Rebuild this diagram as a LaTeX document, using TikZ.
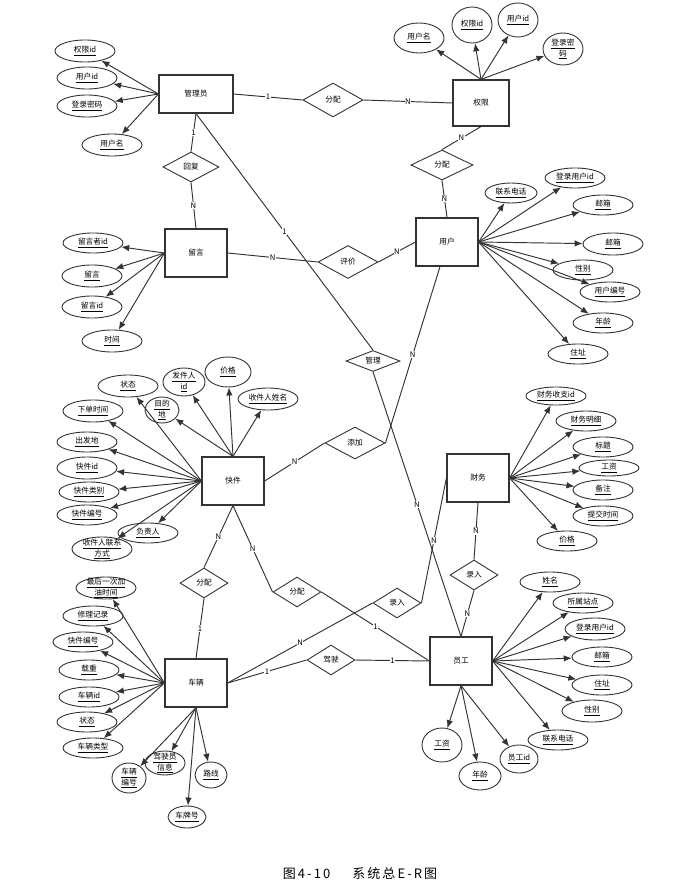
\documentclass[tikz,border=0pt]{standalone}
\usepackage{fontspec}
\setmainfont{Noto Sans CJK SC}
\newfontfamily\capfont[LetterSpace=16]{Noto Sans CJK SC}
\usepackage{tikz}
\usepackage{xcolor}
\usetikzlibrary{arrows.meta,shapes.geometric}
\definecolor{lncol}{HTML}{333333}
\newcommand{\attrtwo}[2]{\makebox[0pt]{\smash{\raisebox{-2pt}{\begin{tabular}{@{}c@{}}\underline{#1}\\\underline{#2}\end{tabular}}}}}

\begin{document}
\begin{tikzpicture}[
    x=1pt, y=-1pt,
    font=\fontsize{7.7}{10.5}\selectfont,
    entity/.style={draw=lncol, line width=1.2pt, fill=white, minimum width=62pt, minimum height=48pt},
    rel/.style={draw=lncol, line width=0.9pt, fill=white, diamond, aspect=2, inner sep=0pt, minimum width=48pt, minimum height=30pt},
    attr/.style={draw=lncol, line width=0.9pt, fill=white, ellipse, inner sep=0pt, minimum width=60pt, minimum height=20pt},
    link/.style={draw=lncol, line width=0.95pt},
    arr/.style={link, -{Latex[length=8pt, width=6.5pt]}},
    card/.style={fill=white, inner sep=0.6pt}
]
\useasboundingbox (0,0) rectangle (700,888);

% entities
\node[entity, minimum width=74pt, minimum height=38pt] (admin) at (196,94) {管理员};
\node[entity, minimum width=56pt, minimum height=46pt] (perm) at (481,103) {权限};
\node[entity] (msg) at (196,253) {留言};
\node[entity] (user) at (447,242) {用户};
\node[entity] (parcel) at (233,481) {快件};
\node[entity] (finance) at (478,478) {财务};
\node[entity] (vehicle) at (196,683) {车辆};
\node[entity] (staff) at (461,661) {员工};

% relations
\node[rel, minimum width=60pt, minimum height=34pt] (assigna) at (333,100) {分配};
\node[rel, minimum width=56pt] (reply) at (191,167) {回复};
\node[rel, minimum width=62pt] (assignb) at (442,165) {分配};
\node[rel, minimum width=60pt, minimum height=33pt] (rate) at (348,262) {评价};
\node[rel, minimum width=54pt, minimum height=21pt] (manage) at (373,361) {管理};
\node[rel, minimum width=60pt, minimum height=32pt] (add) at (355,443) {添加};
\node[rel] (assignc) at (204,583) {分配};
\node[rel] (assignd) at (297,592) {分配};
\node[rel] (recorda) at (397,603) {录入};
\node[rel] (recordb) at (474,575) {录入};
\node[rel] (drive) at (331,660) {驾驶};

% attributes of 管理员
\node[attr, minimum height=22pt] (adminpid) at (85,51) {\underline{权限id}};
\node[attr, minimum height=22pt] (adminuid) at (87,78) {\underline{用户id}};
\node[attr, minimum height=22pt] (adminpwd) at (87,106) {\underline{登录密码}};
\node[attr, minimum height=22pt] (adminname) at (112,145) {\underline{用户名}};

% attributes of 权限
\node[attr, minimum width=50pt, minimum height=30pt] (permname) at (419,38) {\underline{用户名}};
\node[attr, minimum width=40pt, minimum height=36pt] (permpid) at (472,25) {\underline{权限id}};
\node[attr, minimum width=40pt, minimum height=34pt] (permuid) at (518,20) {\underline{用户id}};
\node[attr, minimum width=40pt, minimum height=32pt] (permpwd) at (563,49) {\attrtwo{登录密}{码}};

% attributes of 留言
\node[attr] (msgwho) at (93,243) {\underline{留言者id}};
\node[attr, minimum height=22pt] (msgtext) at (92,276) {\underline{留言}};
\node[attr, minimum height=22pt] (msgid) at (92,307) {\underline{留言id}};
\node[attr, minimum height=22pt] (msgtime) at (112,341) {\underline{时间}};

% attributes of 用户
\node[attr, minimum width=52pt] (userphone) at (511,193) {\underline{联系电话}};
\node[attr] (userlogin) at (575,178) {\underline{登录用户id}};
\node[attr] (usermaila) at (603,205) {\underline{邮箱}};
\node[attr, minimum height=22pt] (usermailb) at (613,244) {\underline{邮箱}};
\node[attr] (usersex) at (583,270) {\underline{性别}};
\node[attr] (userno) at (610,292) {\underline{用户编号}};
\node[attr] (userage) at (603,323) {\underline{年龄}};
\node[attr] (useraddr) at (578,354) {\underline{住址}};

% attributes of 快件
\node[attr, minimum height=22pt] (parcelstate) at (128,386) {\underline{状态}};
\node[attr, minimum width=42pt, minimum height=28pt] (parcelsender) at (184,382) {\attrtwo{发件人}{id}};
\node[attr, minimum width=46pt, minimum height=30pt] (parcelprice) at (228,372) {\underline{价格}};
\node[attr, minimum height=22pt] (parcelrecv) at (268,399) {\underline{收件人姓名}};
\node[attr, minimum width=34pt, minimum height=26pt] (parceldest) at (162,410) {\attrtwo{目的}{地}};
\node[attr, minimum height=22pt] (parcelorder) at (93,411) {\underline{下单时间}};
\node[attr] (parcelfrom) at (87,442) {\underline{出发地}};
\node[attr, minimum height=22pt] (parcelid) at (87,468) {\underline{快件id}};
\node[attr] (parceltype) at (89,492) {\underline{快件类别}};
\node[attr] (parcelno) at (87,515) {\underline{快件编号}};
\node[attr] (parcelowner) at (148,533) {\underline{负责人}};
\node[attr, minimum height=24pt] (parcelcontact) at (102,549) {\attrtwo{收件人联系}{方式}};

% attributes of 财务
\node[attr, minimum height=18pt] (finid) at (556,396) {\underline{财务收支id}};
\node[attr] (findetail) at (586,421) {\underline{财务明细}};
\node[attr] (fintitle) at (603,447) {\underline{标题}};
\node[attr, minimum height=16pt] (finwage) at (609,468) {\underline{工资}};
\node[attr] (finnote) at (603,490) {\underline{备注}};
\node[attr] (fintime) at (603,516) {\underline{提交时间}};
\node[attr] (finprice) at (567,541) {\underline{价格}};

% attributes of 车辆
\node[attr, minimum height=22pt] (vehfuel) at (106,588) {\attrtwo{最后一次加}{油时间}};
\node[attr] (vehrepair) at (93,616) {\underline{修理记录}};
\node[attr] (vehparcel) at (83,642) {\underline{快件编号}};
\node[attr] (vehload) at (89,670) {\underline{载重}};
\node[attr] (vehid) at (89,697) {\underline{车辆id}};
\node[attr] (vehstate) at (87,722) {\underline{状态}};
\node[attr] (vehtype) at (93,748) {\underline{车辆类型}};
\node[attr, minimum width=34pt, minimum height=30pt] (vehno) at (129,778) {\attrtwo{车辆}{编号}};
\node[attr, minimum width=40pt, minimum height=24pt] (vehdriver) at (165,763) {\attrtwo{驾驶员}{信息}};
\node[attr, minimum width=32pt, minimum height=26pt] (vehroute) at (211,775) {\underline{路线}};
\node[attr, minimum width=38pt, minimum height=22pt] (vehplate) at (187,817) {\underline{车牌号}};

% attributes of 员工
\node[attr] (staffname) at (550,582) {\underline{姓名}};
\node[attr] (staffsite) at (583,603) {\underline{所属站点}};
\node[attr, minimum height=22pt] (stafflogin) at (595,629) {\underline{登录用户id}};
\node[attr] (staffmail) at (602,657) {\underline{邮箱}};
\node[attr] (staffaddr) at (602,685) {\underline{住址}};
\node[attr, minimum height=22pt] (staffsex) at (592,711) {\underline{性别}};
\node[attr] (staffphone) at (558,740) {\underline{联系电话}};
\node[attr, minimum width=40pt, minimum height=34pt] (staffwage) at (442,745) {\underline{工资}};
\node[attr, minimum width=42pt, minimum height=28pt] (staffage) at (480,776) {\underline{年龄}};
\node[attr, minimum width=38pt, minimum height=28pt] (staffid) at (519,759) {\underline{员工id}};

% caption
\node[font=\capfont\fontsize{13}{15}\selectfont] (caption) at (360,874) {图4-10\hspace{22pt}系统总E-R图};

% relationships
\draw[link] (admin.east) -- node[card] {1} (assigna.west);
\draw[link] (assigna.east) -- node[card] {N} (perm.west);
\draw[link] (admin.south) -- node[card] {1} (reply.north);
\draw[link] (reply.south) -- node[card] {N} (msg.north);
\draw[link] (admin.south) -- node[card] {1} (manage.north);
\draw[link] (manage.south) -- node[card] {N} (staff.north);
\draw[link] (perm.south) -- node[card] {N} (assignb.north);
\draw[link] (assignb.south) -- node[card] {N} (user.north);
\draw[link] (msg.east) -- node[card] {N} (rate.west);
\draw[link] (rate.east) -- node[card] {N} (user.west);
\draw[link] ([xshift=-7pt]user.south) -- node[card] {N} (add.east);
\draw[link] (parcel.east) -- node[card] {N} (add.west);
\draw[link] (parcel.south) -- node[card] {N} (assignc.north);
\draw[link] (assignc.south) -- node[card] {1} (vehicle.north);
\draw[link] (parcel.south) -- node[card] {N} (assignd.west);
\draw[link] (assignd.east) -- node[card] {1} (staff.west);
\draw[link] (vehicle.east) -- node[card] {N} (recorda.west);
\draw[link] (recorda.east) -- node[card] {N} (finance.west);
\draw[link] (vehicle.east) -- node[card] {1} (drive.west);
\draw[link] (drive.east) -- node[card] {1} (staff.west);
\draw[link] (finance.south) -- node[card] {N} (recordb.north);
\draw[link] (recordb.south) -- node[card] {N} (staff.north);

% attribute arrows
\draw[arr] (admin.west) -- (adminpid);
\draw[arr] (admin.west) -- (adminuid);
\draw[arr] (admin.west) -- (adminpwd);
\draw[arr] (admin.west) -- (adminname);

\draw[arr] (perm.north) -- (permname);
\draw[arr] (perm.north) -- (permpid);
\draw[arr] (perm.north) -- (permuid);
\draw[arr] (perm.north) -- (permpwd);

\draw[arr] (msg.west) -- (msgwho);
\draw[arr] (msg.west) -- (msgtext);
\draw[arr] (msg.west) -- (msgid);
\draw[arr] (msg.west) -- (msgtime);

\draw[arr] (user.east) -- (userphone);
\draw[arr] (user.east) -- (userlogin);
\draw[arr] (user.east) -- (usermaila);
\draw[arr] (user.east) -- (usermailb);
\draw[arr] (user.east) -- (usersex);
\draw[arr] (user.east) -- (userno);
\draw[arr] (user.east) -- (userage);
\draw[arr] (user.east) -- (useraddr);

\draw[arr] (parcel.west) -- (parcelstate);
\draw[arr] (parcel.north) -- (parcelsender);
\draw[arr] (parcel.north) -- (parcelprice);
\draw[arr] (parcel.north) -- (parcelrecv);
\draw[arr] (parcel.north) -- (parceldest);
\draw[arr] (parcel.west) -- (parcelorder);
\draw[arr] (parcel.west) -- (parcelfrom);
\draw[arr] (parcel.west) -- (parcelid);
\draw[arr] (parcel.west) -- (parceltype);
\draw[arr] (parcel.west) -- (parcelno);
\draw[arr] (parcel.west) -- (parcelowner);
\draw[arr] (parcel.west) -- (parcelcontact);

\draw[arr] (finance.east) -- (finid);
\draw[arr] (finance.east) -- (findetail);
\draw[arr] (finance.east) -- (fintitle);
\draw[arr] (finance.east) -- (finwage);
\draw[arr] (finance.east) -- (finnote);
\draw[arr] (finance.east) -- (fintime);
\draw[arr] (finance.east) -- (finprice);

\draw[arr] (vehicle.west) -- (vehfuel);
\draw[arr] (vehicle.west) -- (vehrepair);
\draw[arr] (vehicle.west) -- (vehparcel);
\draw[arr] (vehicle.west) -- (vehload);
\draw[arr] (vehicle.west) -- (vehid);
\draw[arr] (vehicle.west) -- (vehstate);
\draw[arr] (vehicle.west) -- (vehtype);
\draw[arr] (vehicle.south) -- (vehno);
\draw[arr] (vehicle.south) -- (vehdriver);
\draw[arr] (vehicle.south) -- (vehroute);
\draw[arr] (vehicle.south) -- (vehplate);

\draw[arr] (staff.east) -- (staffname);
\draw[arr] (staff.east) -- (staffsite);
\draw[arr] (staff.east) -- (stafflogin);
\draw[arr] (staff.east) -- (staffmail);
\draw[arr] (staff.east) -- (staffaddr);
\draw[arr] (staff.east) -- (staffsex);
\draw[arr] (staff.east) -- (staffphone);
\draw[arr] (staff.south) -- (staffwage);
\draw[arr] (staff.south) -- (staffage);
\draw[arr] (staff.south) -- (staffid);
\end{tikzpicture}
\end{document}
